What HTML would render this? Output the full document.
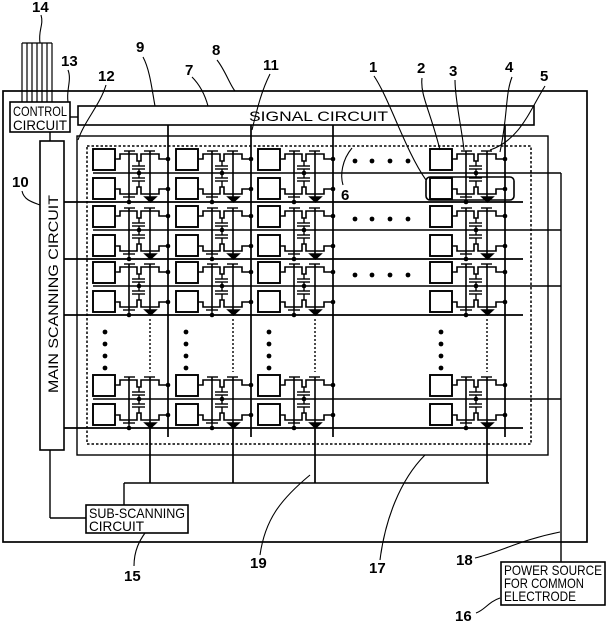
<!DOCTYPE html>
<html><head><meta charset="utf-8"><style>
html,body{margin:0;padding:0;background:#fff;}
svg{display:block;}
text{font-family:"Liberation Sans",sans-serif;fill:#000;}
.lb{font-size:15px;font-weight:bold;}
.bx{font-family:"Liberation Sans Narrow","Liberation Sans",sans-serif;font-size:14px;}
</style></head><body>
<svg id="s" width="607" height="621" viewBox="0 0 607 621" xmlns="http://www.w3.org/2000/svg" fill="none" stroke="#000" stroke-width="1.4">
<rect x="3" y="91" width="584" height="451" stroke-width="1.7"/>
<g stroke-width="1.2">
<line x1="22" y1="43" x2="52" y2="43"/>
<line x1="22" y1="43" x2="22" y2="103"/><line x1="27" y1="43" x2="27" y2="103"/><line x1="32" y1="43" x2="32" y2="103"/><line x1="37" y1="43" x2="37" y2="103"/><line x1="42" y1="43" x2="42" y2="103"/><line x1="47" y1="43" x2="47" y2="103"/><line x1="52" y1="43" x2="52" y2="103"/>
</g>
<rect x="10" y="102" width="60" height="30" fill="#fff" stroke-width="1.6"/>
<text class="bx" x="13" y="116" stroke="none" textLength="54" lengthAdjust="spacingAndGlyphs">CONTROL</text>
<text class="bx" x="13" y="130" stroke="none" textLength="54" lengthAdjust="spacingAndGlyphs">CIRCUIT</text>
<line x1="70" y1="117" x2="78" y2="117"/>
<line x1="50" y1="132" x2="50" y2="141"/>
<rect x="78" y="106" width="456" height="19" stroke-width="1.6"/>
<text class="bx" x="249" y="121" stroke="none" textLength="139" lengthAdjust="spacingAndGlyphs">SIGNAL CIRCUIT</text>
<rect x="40" y="141" width="24" height="309" stroke-width="1.6"/>
<text class="bx" transform="translate(58,393) rotate(-90)" stroke="none" textLength="198" lengthAdjust="spacingAndGlyphs">MAIN SCANNING CIRCUIT</text>
<rect x="77" y="136" width="471" height="319"/>
<rect x="87" y="146" width="444" height="298" stroke-dasharray="2.5,2" stroke-width="1.5"/>
<g id="cells"></g>
<line x1="124" y1="483" x2="489" y2="483" stroke-width="1.6"/>
<line x1="124" y1="483" x2="124" y2="505"/>
<line x1="50" y1="450" x2="50" y2="518"/>
<line x1="50" y1="518" x2="86" y2="518"/>
<rect x="86" y="505" width="102" height="28" stroke-width="1.6"/>
<text class="bx" x="89" y="518" stroke="none" textLength="96" lengthAdjust="spacingAndGlyphs">SUB-SCANNING</text>
<text class="bx" x="89" y="531" stroke="none" textLength="55" lengthAdjust="spacingAndGlyphs">CIRCUIT</text>
<line x1="561" y1="173" x2="561" y2="562"/>
<rect x="501" y="562" width="104" height="43" stroke-width="1.6"/>
<text class="bx" x="504" y="575" stroke="none" textLength="98" lengthAdjust="spacingAndGlyphs">POWER SOURCE</text>
<text class="bx" x="504" y="588" stroke="none" textLength="80" lengthAdjust="spacingAndGlyphs">FOR COMMON</text>
<text class="bx" x="504" y="601" stroke="none" textLength="72" lengthAdjust="spacingAndGlyphs">ELECTRODE</text>
<rect x="426" y="177" width="88" height="23" rx="4" stroke-width="1.6"/>
<g stroke="none">
<text class="lb" x="32" y="12">14</text>
<text class="lb" x="61" y="66">13</text>
<text class="lb" x="98" y="81">12</text>
<text class="lb" x="136" y="52">9</text>
<text class="lb" x="185" y="75">7</text>
<text class="lb" x="212" y="55">8</text>
<text class="lb" x="263" y="70">11</text>
<text class="lb" x="369" y="72">1</text>
<text class="lb" x="417" y="73">2</text>
<text class="lb" x="449" y="76">3</text>
<text class="lb" x="505" y="72">4</text>
<text class="lb" x="540" y="81">5</text>
<text class="lb" x="341" y="200">6</text>
<text class="lb" x="12" y="187">10</text>
<text class="lb" x="124" y="581">15</text>
<text class="lb" x="250" y="568">19</text>
<text class="lb" x="369" y="573">17</text>
<text class="lb" x="456" y="565">18</text>
<text class="lb" x="455" y="621">16</text>
</g>
<g stroke-width="1.1">
<path d="M41,15 C44,25 38,30 40,43"/>
<path d="M68,70 C72,80 66,90 68,102"/>
<path d="M106,85 C100,105 85,120 78,140"/>
<path d="M143,57 C150,70 152,90 155,106"/>
<path d="M192,77 C200,85 205,95 208,106"/>
<path d="M217,60 C225,70 230,85 235,91"/>
<path d="M270,74 C262,90 258,105 252,130"/>
<path d="M374,76 C390,100 405,150 426,180"/>
<path d="M422,78 C420,95 430,110 440,150"/>
<path d="M455,80 C455,100 462,130 464,150"/>
<path d="M512,77 C505,95 508,115 500,152"/>
<path d="M545,86 C530,110 520,140 490,150"/>
<path d="M343,185 C340,175 342,160 352,148"/>
<path d="M22,191 C24,200 32,202 40,205"/>
<path d="M134,566 C134,550 140,540 145,533"/>
<path d="M260,555 C265,520 280,500 310,475"/>
<path d="M380,560 C385,520 400,480 425,455"/>
<path d="M475,558 C500,552 520,540 560,532"/>
<path d="M476,613 C485,610 488,602 500,598"/>
</g>
</svg>
<script>
(function(){
var g=document.getElementById('cells');var h='';
function L(a,b,c,d,extra){h+='<line x1="'+a+'" y1="'+b+'" x2="'+c+'" y2="'+d+'"'+(extra||'')+'/>';}
function D(x,y,r){h+='<circle cx="'+x+'" cy="'+y+'" r="'+(r||2.3)+'" fill="#000" stroke="none"/>';}
var cols=[93,176,258,430];var rows=[149,206,262,375];
cols.forEach(function(x){L(x+75,125,x+75,437,' stroke-width="1.7"');});
rows.forEach(function(y){
  L(64,y+53,523,y+53,' stroke-width="1.7"');
  L(93,y+24,561,y+24);
});
rows.forEach(function(y){
  cols.forEach(function(x){
    h+='<rect x="'+x+'" y="'+y+'" width="22" height="21" fill="#fff" stroke-width="1.9"/>';
    h+='<rect x="'+x+'" y="'+(y+29)+'" width="22" height="21" fill="#fff" stroke-width="1.9"/>';
    L(22+x,y+10,24+x,y+10);L(22+x,y+40,24+x,y+40);
    h+='<polyline stroke-width="1.6" points="'+[[24,10],[27,10],[27,5],[44,5],[44,12],[48,12],[48,5],[66,5],[66,10],[75,10]].map(function(p){return (x+p[0])+','+(y+p[1]);}).join(' ')+'"/>';
    h+='<polyline stroke-width="1.6" points="'+[[24,40],[27,40],[27,45],[44,45],[44,38],[48,38],[48,45],[66,45],[66,40],[75,40]].map(function(p){return (x+p[0])+','+(y+p[1]);}).join(' ')+'"/>';
    L(x+31,y+2,x+42,y+2);L(x+51,y+2,x+62,y+2);
    L(x+36,y+2,x+36,y+48,' stroke-width="1.6"');L(x+57,y+2,x+57,y+48,' stroke-width="1.6"');
    L(x+39,y+17,x+52,y+17);L(x+39,y+20,x+52,y+20);L(x+39,y+29,x+52,y+29);L(x+39,y+32,x+52,y+32);
    L(x+46,y+12,x+46,y+17);L(x+46,y+20,x+46,y+29);L(x+46,y+32,x+46,y+38);
    D(x+46,y+24);
    L(x+30,y+48,x+42,y+48);L(x+36,y+48,x+36,y+53);D(x+36,y+53);
    h+='<path d="M'+(x+52)+','+(y+48)+' h11 l-5.5,5 z" fill="#000"/>';
    D(x+75,y+10);D(x+75,y+40);
  });
});
cols.forEach(function(x){L(x+57,428,x+57,483,' stroke-width="1.7"');L(x+57,319,x+57,372,' stroke-dasharray="2,2"');});
[161,219,275].forEach(function(y){[355,372,390,408].forEach(function(x){D(x,y,2.4);});});
[105,186,269,441].forEach(function(x){[332,344,356,368].forEach(function(y){D(x,y,2.4);});});
g.innerHTML=h;
})();
</script>
</body></html>
